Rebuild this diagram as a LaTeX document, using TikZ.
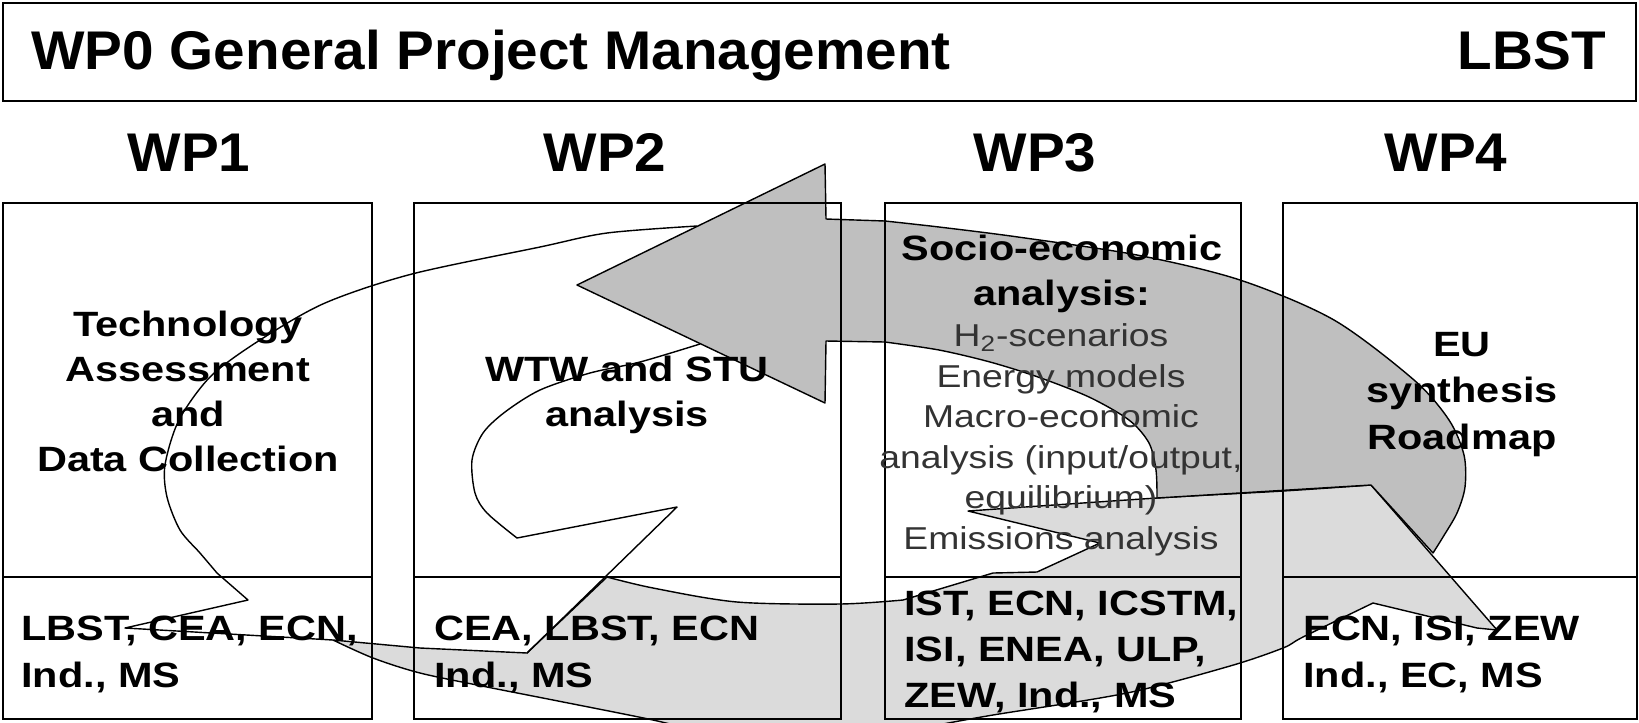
\documentclass[tikz,border=0pt]{standalone}
\usepackage{fontspec}
\setmainfont{Liberation Sans}
\newfontfamily\headfont{Liberation Sans}[FakeStretch=1.04]
\newfontfamily\widefont{Liberation Sans}[FakeStretch=1.18]
\usepackage{tikz}
\definecolor{ringdark}{gray}{0.75}
\definecolor{ringlight}{gray}{0.86}

\begin{document}
\begin{tikzpicture}[x=0.2mm,y=-0.2mm,
  box/.style={line width=1.1pt},
  ring/.style={line width=0.8pt, line join=round},
  head/.style={font=\headfont\bfseries\fontsize{31}{37}\selectfont, inner sep=0pt},
  task/.style={font=\widefont\bfseries\fontsize{20}{25.5}\selectfont, align=center, anchor=base, inner sep=0pt},
  item/.style={font=\widefont\fontsize{18}{23}\selectfont, text=black!80, align=center, anchor=base, inner sep=0pt},
  part/.style={font=\widefont\bfseries\fontsize{20}{26.5}\selectfont, align=left, anchor=base west, inner sep=0pt}]
  \useasboundingbox (0,0) rectangle (1639,722);

  % the ring arrow
  \begin{scope}
    \clip (0,0) rectangle (1639,722);
    % front part (light)
    \filldraw[ring, fill=ringlight]
      (1371,485) -- (1497,630) -- (1477,628) -- (1373,603)
      -- plot[smooth] coordinates {(1373,603) (1303,637) (1283,648) (1230,666) (1127,693) (993,715) (943,724)}
      -- (940,745) -- (700,745) -- (700,732)
      -- plot[smooth] coordinates {(700,732) (653,720) (553,700) (487,687) (420,673) (373,658) (333,640)}
      -- (420,648) -- (527,653) -- (607,577)
      -- plot[smooth] coordinates {(607,577) (653,588) (737,602) (840,604) (903,600)}
      -- (993,573) -- (1037,572) -- (1100,543) -- (968,511)
      -- plot[smooth] coordinates {(968,511) (1157,498) (1283,491) (1371,485)}
      -- cycle;
    % back part with head (dark)
    \filldraw[ring, fill=ringdark]
      (577,285) -- (825,164) -- (826,219) -- (885,221)
      -- plot[smooth] coordinates {(885,221) (939,227) (1018,237) (1137,255) (1240,280) (1334,320) (1414,380) (1449,420) (1464,455) (1465,487) (1457,513) (1443,537) (1433,553)}
      -- (1371,485) -- (1157,498)
      -- plot[smooth] coordinates {(1157,498) (1156,470) (1149,443) (1129,420) (1089,397) (1038,377) (990,362) (939,350) (885,342)}
      -- (826,341) -- (825,403) -- cycle;
    % left part (open)
    \draw[ring] plot[smooth] coordinates {(697,226) (607,233) (540,247) (412,274) (325,303) (260,340) (211,376) (179,420) (165,465) (167,497) (180,530) (200,553) (217,573)}
      -- (248,600) -- (125,628) -- (333,640);
    \draw[ring] plot[smooth] coordinates {(700,344) (640,362) (590,373) (540,390) (505,412) (483,433) (472,460) (475,493) (487,513) (517,538)}
      -- (677,507) -- (527,653);
  \end{scope}

  % WP0
  \draw[box, line width=1.3pt] (3,3) rectangle (1636,101);
  \node[head, anchor=base west] (wp0) at (31,69) {WP0 General Project Management};
  \node[head, anchor=base east] (lead) at (1606,69) {LBST};

  % WP1 .. WP4
  \foreach \l/\r in {3/372, 414/841, 885/1241, 1283/1637} {
    \draw[box] (\l,203) rectangle (\r,719);
    \draw[box] (\l,577) -- (\r,577);
  }
  \node[head, anchor=base] (wp1) at (189,171) {WP1};
  \node[head, anchor=base] (wp2) at (605,171) {WP2};
  \node[head, anchor=base] (wp3) at (1035,171) {WP3};
  \node[head, anchor=base] (wp4) at (1446,171) {WP4};

  % base = last line
  \node[task] (task1) at (188,471) {Technology\\Assessment\\and\\Data Collection};
  \node[task] (task2) at (627,426) {WTW and STU\\analysis};
  \node[task] (task3) at (1062,305) {Socio-economic\\analysis:};
  \node[item] (items3) at (1061,549) {H\textsubscript{2}-scenarios\\Energy models\\Macro-economic\\analysis (input/output,\\equilibrium)\\Emissions analysis};
  \node[task, font=\widefont\bfseries\fontsize{20}{26.4}\selectfont] (task4) at (1462,449) {EU\\synthesis\\Roadmap};

  \node[part] (part1) at (21,687) {LBST, CEA, ECN,\\Ind., MS};
  \node[part] (part2) at (434,687) {CEA, LBST, ECN\\Ind., MS};
  \node[part, font=\widefont\bfseries\fontsize{20}{26}\selectfont] (part3) at (904,707) {IST, ECN, ICSTM,\\ISI, ENEA, ULP,\\ZEW, Ind., MS};
  \node[part] (part4) at (1303,687) {ECN, ISI, ZEW\\Ind., EC, MS};
\end{tikzpicture}
\end{document}
